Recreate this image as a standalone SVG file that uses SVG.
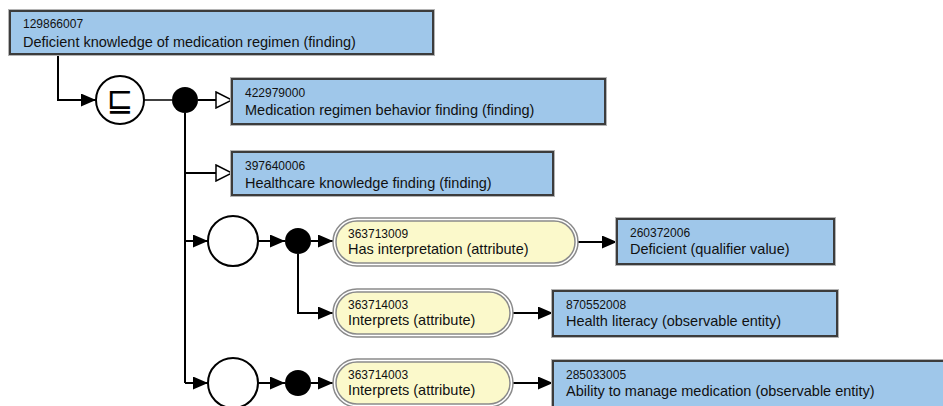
<svg xmlns="http://www.w3.org/2000/svg" width="943" height="406" viewBox="0 0 943 406">
<style>
.bh{fill:none;stroke:#b4b4b4;stroke-width:4}
.bx{fill:#9fc7ea;stroke:#3c3c3c;stroke-width:2}
.po{fill:#ffffff;stroke:#8a8a8a;stroke-width:1.5}
.pi{fill:#fbf9cb;stroke:#8a8a8a;stroke-width:1.5}
.id{font-family:"Liberation Sans",Arial,sans-serif;font-size:12px;fill:#111}
.lb{font-family:"Liberation Sans",Arial,sans-serif;font-size:14.5px;fill:#111}
.c{fill:none;stroke:#000;stroke-width:2}
.ct{fill:none;stroke:#000;stroke-width:1.5}
.f{marker-end:url(#fa)}
.o{marker-end:url(#oa)}
.ring{fill:#fff;stroke:#000;stroke-width:2}
.dot{fill:#000}
</style>
<defs>
<marker id="fa" markerUnits="userSpaceOnUse" markerWidth="15" markerHeight="13" refX="15" refY="6.5" orient="auto">
<path d="M0,0 L15,6.5 L0,13 Z" fill="#000"/>
</marker>
<marker id="oa" markerUnits="userSpaceOnUse" markerWidth="18" markerHeight="18" refX="17" refY="9" orient="auto">
<path d="M1,1 L17,9 L1,17 Z" fill="#fff" stroke="#000" stroke-width="1.5"/>
</marker>
</defs>

<g id="connectors">
<path class="c f" d="M58,54 V100 H96"/>
<path class="ct" d="M144,100 H172"/>
<path class="c o" d="M198,100 H232"/>
<path class="c" d="M185,113 V383"/>
<path class="c o" d="M185,173 H232"/>
<path class="c f" d="M185,241 H208"/>
<path class="c f" d="M258,241 H285"/>
<path class="c f" d="M311,241 H333"/>
<path class="c f" d="M578,242 H617"/>
<path class="c f" d="M298,254 V313 H333"/>
<path class="c f" d="M513,313 H553"/>
<path class="c f" d="M185,383 H208"/>
<path class="c f" d="M258,383 H285"/>
<path class="c f" d="M311,383 H333"/>
<path class="c f" d="M513,383 H553"/>
</g>

<g id="n129866007">
<rect class="bh" x="10" y="11" width="423" height="43"/>
<rect class="bx" x="10" y="11" width="423" height="43"/>
<text class="id" x="23" y="28">129866007</text>
<text class="lb" x="23" y="47">Deficient knowledge of medication regimen (finding)</text>
</g>

<g id="sub1">
<circle class="ring" cx="120" cy="100" r="24"/>
<text x="120" y="111" text-anchor="middle" font-family="DejaVu Sans, sans-serif" font-size="32" fill="#000">⊑</text>
</g>
<g id="conj1"><circle class="dot" cx="185" cy="100" r="13"/></g>

<g id="n422979000">
<rect class="bh" x="232" y="79" width="373" height="45"/>
<rect class="bx" x="232" y="79" width="373" height="45"/>
<text class="id" x="245" y="97">422979000</text>
<text class="lb" x="245" y="115">Medication regimen behavior finding (finding)</text>
</g>

<g id="n397640006">
<rect class="bh" x="232" y="152" width="321" height="43"/>
<rect class="bx" x="232" y="152" width="321" height="43"/>
<text class="id" x="245" y="170">397640006</text>
<text class="lb" x="245" y="188">Healthcare knowledge finding (finding)</text>
</g>

<g id="group1"><circle class="ring" cx="233" cy="241" r="25"/></g>
<g id="conj2"><circle class="dot" cx="298" cy="241" r="13"/></g>

<g id="n363713009">
<rect class="po" x="333" y="218" width="245" height="48" rx="24"/>
<rect class="pi" x="336" y="221" width="239" height="42" rx="21"/>
<text class="id" x="348" y="238">363713009</text>
<text class="lb" x="348" y="254">Has interpretation (attribute)</text>
</g>

<g id="n260372006">
<rect class="bh" x="617" y="219" width="217" height="45"/>
<rect class="bx" x="617" y="219" width="217" height="45"/>
<text class="id" x="630" y="237">260372006</text>
<text class="lb" x="630" y="254">Deficient (qualifier value)</text>
</g>

<g id="n363714003a">
<rect class="po" x="333" y="289" width="180" height="48" rx="24"/>
<rect class="pi" x="336" y="292" width="174" height="42" rx="21"/>
<text class="id" x="348" y="309">363714003</text>
<text class="lb" x="348" y="325">Interprets (attribute)</text>
</g>

<g id="n870552008">
<rect class="bh" x="553" y="291" width="284" height="45"/>
<rect class="bx" x="553" y="291" width="284" height="45"/>
<text class="id" x="566" y="309">870552008</text>
<text class="lb" x="566" y="326">Health literacy (observable entity)</text>
</g>

<g id="group2"><circle class="ring" cx="233" cy="383" r="25"/></g>
<g id="conj3"><circle class="dot" cx="298" cy="383" r="13"/></g>

<g id="n363714003b">
<rect class="po" x="333" y="359" width="180" height="48" rx="24"/>
<rect class="pi" x="336" y="362" width="174" height="42" rx="21"/>
<text class="id" x="348" y="379">363714003</text>
<text class="lb" x="348" y="395">Interprets (attribute)</text>
</g>

<g id="n285033005">
<rect class="bh" x="553" y="361" width="392" height="47"/>
<rect class="bx" x="553" y="361" width="392" height="47"/>
<text class="id" x="566" y="379">285033005</text>
<text class="lb" x="566" y="396">Ability to manage medication (observable entity)</text>
</g>
</svg>
